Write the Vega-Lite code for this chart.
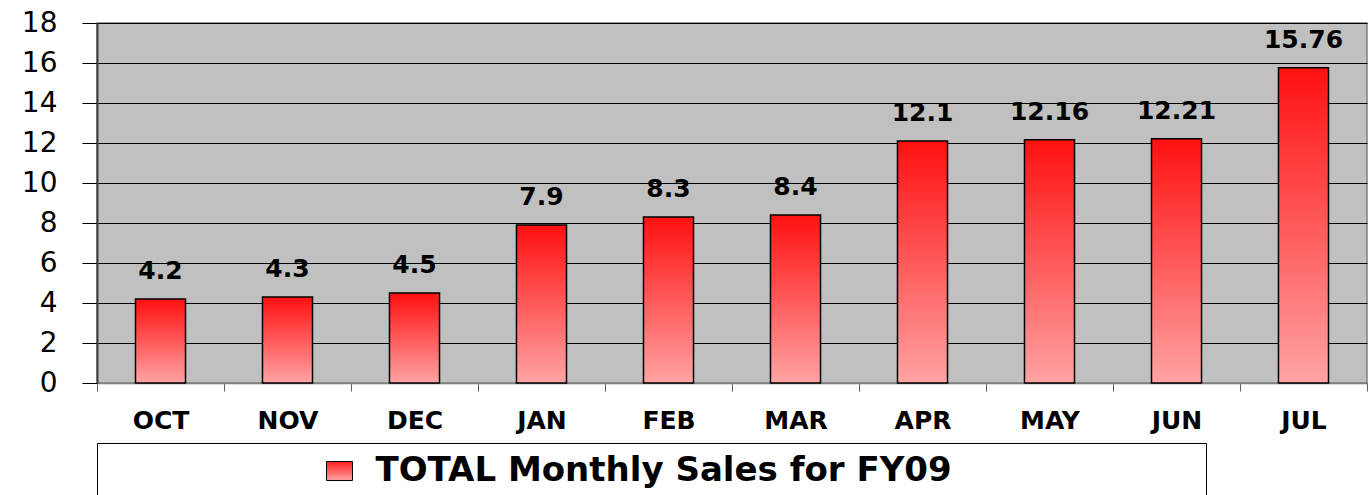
{
  "$schema": "https://vega.github.io/schema/vega-lite/v6.json",
  "padding": {"left": 20, "top": 8, "right": 5, "bottom": 0},
  "bounds": "flush",
  "spacing": 60,
  "config": {"font": "DejaVu Sans", "view": {"stroke": null}},
  "vconcat": [
    {
      "width": 1270,
      "height": 360,
      "view": {"fill": "#C0C0C0", "stroke": "#808080", "strokeWidth": 1.5},
      "data": {"values": [
        {"month": "OCT", "sales": 4.2},
        {"month": "NOV", "sales": 4.3},
        {"month": "DEC", "sales": 4.5},
        {"month": "JAN", "sales": 7.9},
        {"month": "FEB", "sales": 8.3},
        {"month": "MAR", "sales": 8.4},
        {"month": "APR", "sales": 12.1},
        {"month": "MAY", "sales": 12.16},
        {"month": "JUN", "sales": 12.21},
        {"month": "JUL", "sales": 15.76}
      ]},
      "encoding": {
        "x": {
          "field": "month", "type": "nominal", "sort": null,
          "scale": {"paddingInner": 0, "paddingOuter": 0},
          "axis": {
            "title": null, "labelAngle": 0, "labelFontSize": 25, "labelFontWeight": "bold",
            "labelColor": "black", "labelPadding": 17, "tickSize": 8, "tickColor": "#606060",
            "tickBand": "extent", "domainColor": "#808080", "domainWidth": 1.5, "grid": false,
            "labelFont": "DejaVu Sans"
          }
        },
        "y": {
          "field": "sales", "type": "quantitative",
          "scale": {"domain": [0, 18], "nice": false},
          "axis": {
            "title": null, "values": [0, 2, 4, 6, 8, 10, 12, 14, 16, 18],
            "grid": true, "gridColor": "black", "gridOpacity": 1, "gridWidth": 1,
            "tickColor": "black", "tickSize": 15, "tickWidth": 1,
            "domainColor": "#404040", "domainWidth": 2,
            "labelFontSize": 28, "labelColor": "black", "labelPadding": 25,
            "labelFont": "DejaVu Sans"
          }
        }
      },
      "layer": [
        {
          "mark": {
            "type": "bar", "width": {"band": 0.394},
            "fill": {"gradient": "linear", "x1": 0, "y1": 0, "x2": 0, "y2": 1,
              "stops": [{"offset": 0, "color": "#FF1010"}, {"offset": 1, "color": "#FFA3A3"}]},
            "stroke": "black", "strokeWidth": 1.5
          }
        },
        {
          "mark": {"type": "text", "dy": -20, "baseline": "alphabetic", "fontSize": 25,
            "fontWeight": "bold", "font": "DejaVu Sans", "color": "black"},
          "encoding": {"text": {"field": "sales", "type": "quantitative", "format": "~g"}}
        }
      ]
    },
    {
      "width": 1109,
      "height": 56,
      "view": {"fill": "white", "stroke": "black", "strokeWidth": 1},
      "data": {"values": [{"label": "TOTAL Monthly Sales for FY09"}]},
      "layer": [
        {
          "mark": {
            "type": "point", "shape": "M-1,-0.73H1V0.73H-1Z", "size": 676, "filled": true,
            "fill": {"gradient": "linear", "x1": 0, "y1": 0, "x2": 0, "y2": 1,
              "stops": [{"offset": 0, "color": "#FF2020"}, {"offset": 1, "color": "#FFA3A3"}]},
            "stroke": "black", "strokeWidth": 1, "opacity": 1, "xOffset": -312
          },
          "encoding": {}
        },
        {
          "mark": {"type": "text", "fontSize": 34, "fontWeight": "bold", "dx": 12, "color": "black",
            "font": "DejaVu Sans"},
          "encoding": {"text": {"field": "label", "type": "nominal"}}
        }
      ]
    }
  ]
}
